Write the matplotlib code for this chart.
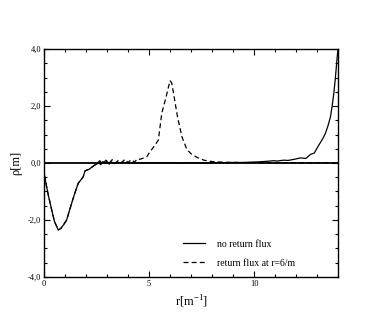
import matplotlib
matplotlib.use("Agg")
import matplotlib.pyplot as plt
from matplotlib.ticker import MultipleLocator, FuncFormatter

plt.rcParams['font.family'] = ['Liberation Serif', 'DejaVu Serif']
plt.rcParams['mathtext.fontset'] = 'custom'
plt.rcParams['mathtext.rm'] = 'Liberation Serif'

# "no return flux"
r_no = [0.02, 0.2, 0.37, 0.5, 0.68, 0.8, 0.95, 1.08, 1.2, 1.32, 1.45, 1.63, 1.75,
        1.87, 1.95, 2.03, 2.15, 2.27, 2.4, 2.51, 2.6, 2.7, 2.8, 2.9, 3.0, 3.1,
        3.2, 3.35, 3.5, 3.65, 3.8, 4.0, 4.3, 4.6, 5.0, 5.5, 6.0, 6.5, 7.0, 7.5,
        8.0, 8.5, 9.0, 9.5, 9.8, 10.2, 10.6, 10.9, 11.1, 11.4, 11.6, 11.9,
        12.2, 12.45, 12.67, 12.85, 13.06, 13.25, 13.38, 13.5, 13.62, 13.7,
        13.78, 13.85, 13.9, 13.95, 13.98, 14.0]
rho_no = [-0.42, -1.1, -1.65, -2.05, -2.35, -2.3, -2.15, -2.0, -1.7, -1.41,
          -1.1, -0.71, -0.6, -0.48, -0.28, -0.25, -0.22, -0.15, -0.08, -0.04,
          0.03, -0.06, 0.05, -0.02, 0.06, -0.04, 0.04, -0.02, 0.03, 0.0, 0.02,
          0.0, 0.01, 0.0, 0.01, 0.0, 0.01, 0.0, 0.01, 0.0, 0.01, 0.01, 0.02,
          0.02, 0.03, 0.04, 0.06, 0.08, 0.07, 0.1, 0.09, 0.13, 0.18, 0.16,
          0.3, 0.35, 0.62, 0.85, 1.04, 1.3, 1.62, 2.0, 2.45, 2.95, 3.38,
          3.8, 3.98, 4.3]

# "return flux at r=6/m"
r_ret = [0.02, 0.2, 0.37, 0.5, 0.68, 0.8, 0.95, 1.08, 1.2, 1.32, 1.45, 1.63,
         1.75, 1.87, 1.95, 2.03, 2.15, 2.27, 2.4, 2.51, 2.65, 2.8, 2.95, 3.1,
         3.25, 3.4, 3.55, 3.7, 3.85, 4.0, 4.15, 4.3, 4.45, 4.57, 4.75, 4.89,
         5.0, 5.13, 5.3, 5.44, 5.6, 5.81, 5.93, 6.0, 6.08, 6.16, 6.35, 6.56,
         6.79, 7.0, 7.27, 7.6, 8.0, 8.5, 9.0, 10.0, 11.0, 12.0, 13.0, 14.0]
rho_ret = [-0.42, -1.1, -1.65, -2.05, -2.35, -2.3, -2.15, -2.0, -1.7, -1.41,
           -1.1, -0.71, -0.6, -0.48, -0.28, -0.25, -0.22, -0.15, -0.08, -0.04,
           0.08, -0.02, 0.1, 0.0, 0.12, 0.0, 0.1, 0.02, 0.13, 0.02, 0.12,
           0.03, 0.15, 0.13, 0.18, 0.22, 0.35, 0.48, 0.65, 0.81, 1.74, 2.33,
           2.7, 2.89, 2.8, 2.45, 1.62, 0.92, 0.48, 0.32, 0.2, 0.1, 0.05, 0.03,
           0.02, 0.01, 0.01, 0.01, 0.01, 0.01]

fig = plt.figure(figsize=(3.82, 3.27), dpi=100)
ax = fig.add_axes([0.115, 0.153, 0.771, 0.697])

ax.axhline(0, color='black', lw=1.3, zorder=1)
ax.plot(r_no, rho_no, color='black', lw=0.9, label='no return flux')
ax.plot(r_ret, rho_ret, color='black', lw=0.9, dashes=(4, 2.5),
        label='return flux at r=6/m')

ax.set_xlim(0, 14)
ax.set_ylim(-4, 4)
ax.xaxis.set_major_locator(MultipleLocator(5))
ax.xaxis.set_minor_locator(MultipleLocator(1))
ax.yaxis.set_major_locator(MultipleLocator(2))
ax.yaxis.set_minor_locator(MultipleLocator(0.5))
ax.yaxis.set_major_formatter(FuncFormatter(lambda v, p: ('%.1f' % v).replace('.', ',')))
ax.xaxis.set_major_formatter(FuncFormatter(lambda v, p: '%d' % v))

ax.tick_params(which='both', direction='in', top=True, right=True, labelsize=6,
               pad=2, width=0.8)
ax.tick_params(which='major', length=4)
ax.tick_params(which='minor', length=2.5)
for s in ax.spines.values():
    s.set_linewidth(1.0)

ax.set_ylabel('ρ[m]', fontsize=9, labelpad=4)
ax.set_xlabel(r'r[m$^{\mathregular{-1}}$]', fontsize=9, labelpad=4)

leg = ax.legend(loc='lower left', frameon=False, fontsize=7,
                handlelength=2.3, handletextpad=1.2, labelspacing=1.05,
                borderpad=0, borderaxespad=0,
                bbox_to_anchor=(0.472, 0.04))

fig.savefig('out.png', dpi=100)
